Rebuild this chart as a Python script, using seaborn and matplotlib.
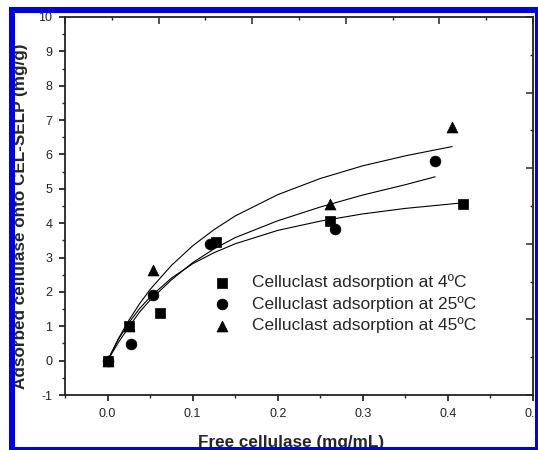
import matplotlib
matplotlib.use('Agg')
import matplotlib.pyplot as plt
import seaborn as sns
from matplotlib.patches import Rectangle
from matplotlib.ticker import MultipleLocator

# measured points
conc_4 = [0.0, 0.025, 0.062, 0.127, 0.262, 0.418]
ads_4 = [0.0, 1.00, 1.40, 3.46, 4.07, 4.55]
conc_25 = [0.0, 0.027, 0.054, 0.120, 0.267, 0.385]
ads_25 = [0.0, 0.49, 1.91, 3.39, 3.83, 5.81]
conc_45 = [0.0, 0.025, 0.054, 0.261, 0.405]
ads_45 = [0.0, 1.02, 2.64, 4.57, 6.80]

# fitted curves
fit_x_4 = [0, 0.0125, 0.025, 0.0375, 0.05, 0.075, 0.1, 0.125, 0.15, 0.2, 0.25, 0.3, 0.35, 0.4, 0.42]
fit_y_4 = [0, 0.61, 1.10, 1.51, 1.85, 2.40, 2.82, 3.14, 3.40, 3.79, 4.06, 4.27, 4.43, 4.55, 4.60]
fit_x_25 = [0, 0.0125, 0.025, 0.0375, 0.05, 0.075, 0.1, 0.125, 0.15, 0.2, 0.25, 0.3, 0.35, 0.385]
fit_y_25 = [0, 0.52, 0.98, 1.41, 1.76, 2.35, 2.85, 3.25, 3.58, 4.07, 4.47, 4.82, 5.12, 5.35]
fit_x_45 = [0, 0.0125, 0.025, 0.0375, 0.05, 0.075, 0.1, 0.125, 0.15, 0.2, 0.25, 0.3, 0.35, 0.405]
fit_y_45 = [0, 0.63, 1.17, 1.65, 2.07, 2.77, 3.34, 3.81, 4.21, 4.83, 5.30, 5.67, 5.96, 6.23]

labels = ['Celluclast adsorption at 4ºC', 'Celluclast adsorption at 25ºC', 'Celluclast adsorption at 45ºC']

sns.set_style('ticks')
plt.rcParams['font.family'] = ['Liberation Sans', 'DejaVu Sans']
plt.rcParams['axes.unicode_minus'] = False

fig = plt.figure(figsize=(5.38, 4.5), dpi=100)
ax = fig.add_axes([65 / 538, 55 / 450, 468 / 538, 378 / 450])

for fx, fy in [(fit_x_4, fit_y_4), (fit_x_25, fit_y_25), (fit_x_45, fit_y_45)]:
    sns.lineplot(x=fx, y=fy, color='black', lw=0.8, ax=ax, legend=False, sort=False, estimator=None)

series = [(conc_4, ads_4, 's', 48), (conc_25, ads_25, 'o', 60), (conc_45, ads_45, '^', 62)]
for (cx, cy, m, s), lab in zip(series, labels):
    sns.scatterplot(x=cx, y=cy, marker=m, s=s, color='black', edgecolor='black',
                    linewidth=0.5, label=lab, ax=ax, legend=False, zorder=3)

ax.set_xlim(-0.05, 0.5)
ax.set_ylim(-1, 10)
ax.xaxis.set_major_locator(MultipleLocator(0.1))
ax.xaxis.set_minor_locator(MultipleLocator(0.05))
ax.yaxis.set_major_locator(MultipleLocator(1))
ax.yaxis.set_minor_locator(MultipleLocator(0.5))
ax.xaxis.set_major_formatter(matplotlib.ticker.FormatStrFormatter('%.1f'))
ax.tick_params(which='major', direction='out', length=4.6, width=1.1, labelsize=9, pad=4.5,
               top=False, right=False, colors='black', labelcolor='#222222')
ax.tick_params(which='minor', direction='out', length=2.4, width=1.0, top=False, right=False)
for sp in ax.spines.values():
    sp.set_linewidth(1.3)
    sp.set_color('#222222')

# top / right mirror axes with their own scale, inward ticks
ax_top = ax.twiny()
ax_top.set_xlim(0, 5)
ax_top.xaxis.set_major_locator(MultipleLocator(1))
ax_top.xaxis.set_minor_locator(MultipleLocator(0.5))
ax_top.tick_params(axis='x', which='major', direction='in', length=4.8, width=1.1, labeltop=False)
ax_top.tick_params(axis='x', which='minor', direction='in', length=2.4, width=1.0)
ax_right = ax.twinx()
ax_right.set_ylim(0, 5)
ax_right.yaxis.set_major_locator(MultipleLocator(1))
ax_right.yaxis.set_minor_locator(MultipleLocator(0.5))
ax_right.tick_params(axis='y', which='major', direction='in', length=4.8, width=1.1, labelright=False)
ax_right.tick_params(axis='y', which='minor', direction='in', length=2.4, width=1.0)
for a in (ax_top, ax_right):
    for sp in a.spines.values():
        sp.set_visible(False)

ax.set_xlabel('Free cellulase (mg/mL)', fontsize=12.3, fontweight='bold')
ax.set_ylabel('Adsorbed cellulase onto CEL-SELP (mg/g)', fontsize=12.3, fontweight='bold')
ax.xaxis.set_label_coords(0.483, -0.106)
ax.yaxis.set_label_coords(-0.078, 0.474)

ax.legend(loc='center left', bbox_to_anchor=(0.298, 0.241), frameon=False, fontsize=12.5,
          borderpad=0, handlelength=1.0, handletextpad=1.25, labelspacing=0.32)

# blue frame of the cropped figure
W, H = 538, 450
def px_rect(x0, y0, x1, y1, color):
    fig.add_artist(Rectangle((x0 / W, 1 - y1 / H), (x1 - x0) / W, (y1 - y0) / H,
                             transform=fig.transFigure, facecolor=color, edgecolor='none', zorder=20))

px_rect(0, 0, 9, H, 'white')
px_rect(0, 0, W, 7, 'white')
px_rect(9, 7, 15, H, '#0000f0')
px_rect(9, 7, W, 13, '#0000f0')
px_rect(534.5, 7, W, H, '#0000f0')
px_rect(9, 446.5, W, H, '#0000f0')

fig.savefig('out.png', dpi=100)
